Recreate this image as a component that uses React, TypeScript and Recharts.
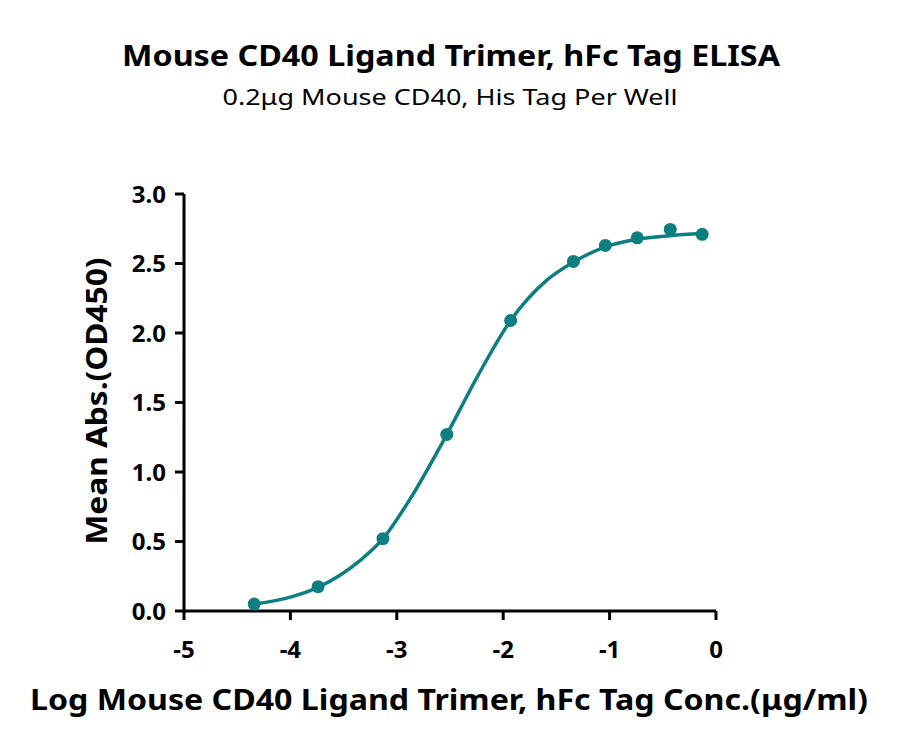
import { ComposedChart, Line, Scatter, XAxis, YAxis } from 'recharts';

// measured points: log concentration (μg/ml) and mean OD450
const logConc = [-4.34, -3.74, -3.13, -2.53, -1.93, -1.34, -1.04, -0.74, -0.43, -0.13];
const meanAbs = [0.05, 0.175, 0.52, 1.27, 2.09, 2.515, 2.63, 2.685, 2.745, 2.71];

// fitted curve
const fitX = [-4.34, -4.0, -3.74, -3.35, -3.13, -2.88, -2.53, -2.24, -1.93, -1.59, -1.34, -1.04, -0.74, -0.43, -0.13];
const fitY = [0.05, 0.1, 0.17, 0.36, 0.52, 0.8, 1.27, 1.69, 2.09, 2.38, 2.51, 2.62, 2.675, 2.7, 2.715];

const xTicks = [-5, -4, -3, -2, -1, 0];
const yTicks = [0, 0.5, 1.0, 1.5, 2.0, 2.5, 3.0];

const title = 'Mouse CD40 Ligand Trimer, hFc Tag ELISA';
const subtitle = '0.2μg Mouse CD40, His Tag Per Well';
const xTitle = 'Log Mouse CD40 Ligand Trimer, hFc Tag Conc.(μg/ml)';
const yTitle = 'Mean Abs.(OD450)';

const points = logConc.map((x, i) => ({ x, y: meanAbs[i] }));
const fit = fitX.map((x, i) => ({ x, y: fitY[i] }));

const teal = '#0d7f80';
const font = '"Noto Sans", sans-serif';

const XTick = ({ x, y, payload }: any) => (
	<text x={x} y={y + 26} textAnchor="middle" fontFamily={font} fontWeight={700} fontSize={24} fill="#000">
		{payload.value}
	</text>
);

const YTick = ({ x, y, payload }: any) => (
	<text x={x - 1} y={y + 8.5} textAnchor="end" fontFamily={font} fontWeight={700} fontSize={24} fill="#000">
		{Number(payload.value).toFixed(1)}
	</text>
);

export default function App() {
	return (
		<div style={{ position: 'relative', width: 884, height: 734 }}>
			<ComposedChart
				width={884}
				height={734}
				margin={{ top: 186, right: 176, bottom: 71, left: 116 }}
			>
				<XAxis
					type="number"
					dataKey="x"
					domain={[-5, 0]}
					ticks={xTicks}
					allowDataOverflow
					stroke="#000"
					strokeWidth={3}
					tickSize={9}
					tickMargin={12}
					tick={<XTick />}
					height={60}
				/>
				<YAxis
					type="number"
					dataKey="y"
					domain={[0, 3]}
					ticks={yTicks}
					stroke="#000"
					strokeWidth={3}
					tickSize={9}
					tickMargin={8}
					tick={<YTick />}
					width={60}
				/>
				<Line
					data={fit}
					dataKey="y"
					type="monotone"
					stroke={teal}
					strokeWidth={3.5}
					dot={false}
					activeDot={false}
					isAnimationActive={false}
				/>
				<Scatter
					data={points}
					dataKey="y"
					fill={teal}
					shape={(p: any) => <circle cx={p.cx} cy={p.cy} r={6.5} fill={teal} />}
					isAnimationActive={false}
				/>
			</ComposedChart>
			<svg
				width={900}
				height={750}
				style={{ position: 'absolute', left: -8, top: -8, pointerEvents: 'none' }}
			>
				<text x={451} y={66} textAnchor="middle" fontFamily={font} fontWeight={700} fontSize={29} textLength={658} lengthAdjust="spacingAndGlyphs">
					{title}
				</text>
				<text x={450} y={105} textAnchor="middle" fontFamily={font} fontSize={22} textLength={455} lengthAdjust="spacingAndGlyphs">
					{subtitle}
				</text>
				<text x={449} y={710} textAnchor="middle" fontFamily={font} fontWeight={700} fontSize={28} textLength={838} lengthAdjust="spacingAndGlyphs">
					{xTitle}
				</text>
				<text
					x={0}
					y={0}
					transform="translate(107,401) rotate(-90)"
					textAnchor="middle"
					fontFamily={font}
					fontWeight={700}
					fontSize={28}
					textLength={287}
					lengthAdjust="spacingAndGlyphs"
				>
					{yTitle}
				</text>
			</svg>
		</div>
	);
}
